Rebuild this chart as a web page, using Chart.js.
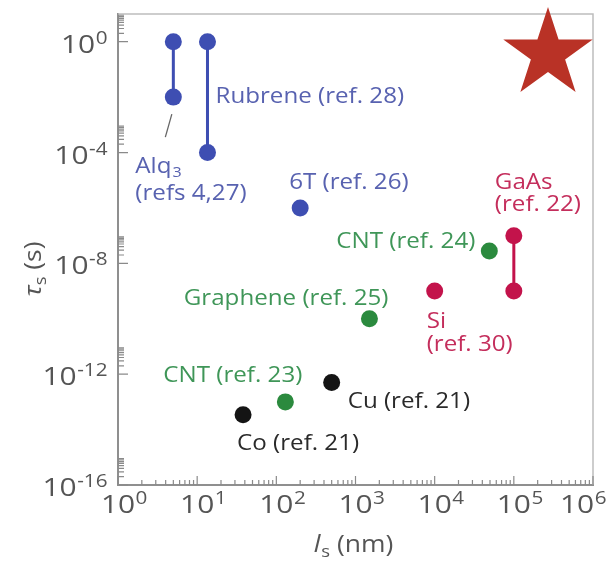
<!DOCTYPE html>
<html>
<head>
<meta charset="utf-8">
<script src="https://cdn.jsdelivr.net/npm/chart.js@4.4.1/dist/chart.umd.min.js"></script>
<style>
  body { margin: 0; background: #fff; }
  #wrap { width: 613px; height: 561px; }
</style>
</head>
<body>
<div id="wrap"><canvas id="c" width="613" height="561"></canvas></div>
<script>
// datos (l_s en nm, tau_s en s)
const materiales = ['Alq3', 'Rubrene', '6T', 'CNT (ref. 24)', 'Graphene', 'CNT (ref. 23)', 'GaAs', 'Si', 'Co', 'Cu'];
const grupos = ['org', 'org', 'org', 'carbon', 'carbon', 'carbon', 'semi', 'semi', 'metal', 'metal'];
const longitudSpin = [5, 13.5, 200, 49000, 1500, 130, 1e5, 1e4, 38, 500];
const tiempoAlto = [1, 1, 1e-6, 2.8e-8, 1e-10, 1e-13, 1e-7, 1e-9, 3.4e-14, 5e-13];
const tiempoBajo = [1e-2, 1e-4, null, null, null, null, 1e-9, null, null, null];

const xExponentes = [0, 1, 2, 3, 4, 5, 6];
const yExponentes = [0, -4, -8, -12, -16];

const colores = { org: '#3e4eb2', carbon: '#2b8a3e', semi: '#c3134b', metal: '#141414' };
const coloresTexto = { org: '#5862b0', carbon: '#3f9658', semi: '#c42e5c', metal: '#2a2a2a' };

// etiquetas: ancladas a un punto (indice) con desplazamiento en px
const etiquetas = [
  { i: 1, p: 'alto', dx: 8, dy: [61], txt: ['Rubrene (ref. 28)'], align: 'left' },
  { i: 0, p: 'bajo', dx: -38, dy: [76, 103], txt: ['Alq', '(refs 4,27)'], sub: '3', align: 'left',
    guia: [-1.5, 17, -8, 40] },
  { i: 2, p: 'alto', dx: -11, dy: [-19], txt: ['6T (ref. 26)'], align: 'left' },
  { i: 3, p: 'alto', dx: -14, dy: [-3], txt: ['CNT (ref. 24)'], align: 'right' },
  { i: 6, p: 'alto', dx: -19, dy: [-47, -25], txt: ['GaAs', '(ref. 22)'], align: 'left' },
  { i: 4, p: 'alto', dx: 19, dy: [-14], txt: ['Graphene (ref. 25)'], align: 'right' },
  { i: 7, p: 'alto', dx: -8, dy: [37, 60], txt: ['Si', '(ref. 30)'], align: 'left' },
  { i: 5, p: 'alto', dx: 17, dy: [-20], txt: ['CNT (ref. 23)'], align: 'right' },
  { i: 8, p: 'alto', dx: -6, dy: [35], txt: ['Co (ref. 21)'], align: 'left' },
  { i: 9, p: 'alto', dx: 16, dy: [25], txt: ['Cu (ref. 21)'], align: 'left' }
];

const FUENTE = '"Open Sans", "Noto Sans", sans-serif';
const SX = 1.15; // el texto del original es algo mas ancho

const datasets = materiales.map((m, i) => {
  const puntos = [{ x: longitudSpin[i], y: tiempoAlto[i] }];
  if (tiempoBajo[i] !== null) puntos.push({ x: longitudSpin[i], y: tiempoBajo[i] });
  return {
    label: m,
    data: puntos,
    showLine: puntos.length > 1,
    borderColor: colores[grupos[i]],
    backgroundColor: colores[grupos[i]],
    borderWidth: 3,
    pointRadius: 8.5,
    pointBorderWidth: 0,
    clip: false
  };
});

function ancho(ctx, t, font) {
  ctx.font = font;
  return ctx.measureText(t).width * SX;
}

// escribe texto con alineacion a la izquierda y estirado en x
function texto(ctx, t, x, y, font) {
  ctx.save();
  ctx.font = font;
  ctx.textAlign = 'left';
  ctx.translate(x, y);
  ctx.scale(SX, 1);
  ctx.fillText(t, 0, 0);
  ctx.restore();
}

function potencia(ctx, exp, x, y, modo) {
  const fBase = '26px ' + FUENTE, fExp = '18px ' + FUENTE;
  const e = String(exp).replace('-', '\u2011');
  const w10 = ancho(ctx, '10', fBase);
  const we = ancho(ctx, e, fExp);
  let x0 = modo === 'derecha' ? x - w10 - we : x - w10 / 2;
  if (x0 + w10 + we > 606) x0 = 606 - w10 - we; // que el 10^6 quepa
  texto(ctx, '10', x0, y, fBase);
  texto(ctx, e, x0 + w10 + 0.5, y - 9, fExp);
}

const decoracion = {
  id: 'decoracion',
  afterDatasetsDraw(chart) {
    const ctx = chart.ctx;
    const xs = chart.scales.x, ys = chart.scales.y;
    const a = chart.chartArea;
    ctx.save();

    // marco superior y derecho
    ctx.strokeStyle = '#bdbdbd';
    ctx.lineWidth = 1.5;
    ctx.beginPath();
    ctx.moveTo(a.left, a.top); ctx.lineTo(a.right, a.top); ctx.lineTo(a.right, a.bottom);
    ctx.stroke();

    // marcas hacia adentro
    ctx.strokeStyle = '#8a8a8a';
    ctx.lineWidth = 1.2;
    ctx.beginPath();
    xExponentes.forEach(n => {
      const px = xs.getPixelForValue(Math.pow(10, n));
      ctx.moveTo(px, a.bottom); ctx.lineTo(px, a.bottom - 9);
      if (n < 6) {
        for (let k = 2; k <= 9; k++) {
          const q = xs.getPixelForValue(k * Math.pow(10, n));
          ctx.moveTo(q, a.bottom); ctx.lineTo(q, a.bottom - 5);
        }
      }
    });
    yExponentes.forEach(n => {
      const py = ys.getPixelForValue(Math.pow(10, n));
      ctx.moveTo(a.left, py); ctx.lineTo(a.left + 10, py);
      for (let k = 2; k <= 9; k++) {
        const q = ys.getPixelForValue(k * Math.pow(10, n));
        ctx.moveTo(a.left, q); ctx.lineTo(a.left + 6, q);
      }
    });
    ctx.stroke();

    // etiquetas de ejes
    ctx.fillStyle = '#555';
    ctx.textBaseline = 'alphabetic';
    xExponentes.forEach(n => {
      potencia(ctx, n, xs.getPixelForValue(Math.pow(10, n)), 513, 'centro');
    });
    yExponentes.forEach(n => {
      potencia(ctx, n, 107, ys.getPixelForValue(Math.pow(10, n)) + 11, 'derecha');
    });

    // titulos
    const fIt = 'italic 23px ' + FUENTE, fSub = '16px ' + FUENTE, fTit = '23px ' + FUENTE;
    let wl = ancho(ctx, 'l', fIt), ws = ancho(ctx, 's', fSub), wr = ancho(ctx, ' (nm)', fTit);
    let x0 = 353 - (wl + ws + wr) / 2;
    texto(ctx, 'l', x0, 552, fIt);
    texto(ctx, 's', x0 + wl + 1, 557, fSub);
    texto(ctx, ' (nm)', x0 + wl + ws + 1, 552, fTit);

    ctx.save();
    ctx.translate(41, 269);
    ctx.rotate(-Math.PI / 2);
    wl = ancho(ctx, '\u03c4', fIt); wr = ancho(ctx, ' (s)', fTit);
    x0 = -(wl + ws + wr) / 2;
    texto(ctx, '\u03c4', x0, 0, fIt);
    texto(ctx, 's', x0 + wl, 5, fSub);
    texto(ctx, ' (s)', x0 + wl + ws, 0, fTit);
    ctx.restore();

    // anotaciones
    const fEt = '21px ' + FUENTE, fEtSub = '14px ' + FUENTE;
    etiquetas.forEach(et => {
      const g = grupos[et.i];
      const valY = et.p === 'alto' ? tiempoAlto[et.i] : tiempoBajo[et.i];
      const px = xs.getPixelForValue(longitudSpin[et.i]);
      const py = ys.getPixelForValue(valY);
      ctx.fillStyle = coloresTexto[g];
      et.txt.forEach((t, k) => {
        const w = ancho(ctx, t, fEt);
        const xi = et.align === 'right' ? px + et.dx - w : px + et.dx;
        texto(ctx, t, xi, py + et.dy[k], fEt);
        if (k === 0 && et.sub) {
          texto(ctx, et.sub, xi + w + 1, py + et.dy[k] + 4, fEtSub);
        }
      });
      if (et.guia) {
        ctx.strokeStyle = '#666';
        ctx.lineWidth = 1.3;
        ctx.beginPath();
        ctx.moveTo(px + et.guia[0], py + et.guia[1]);
        ctx.lineTo(px + et.guia[2], py + et.guia[3]);
        ctx.stroke();
      }
    });

    // estrella
    const cx = 548, cy = 54, R = 47, r = 18;
    ctx.fillStyle = '#b93226';
    ctx.beginPath();
    for (let k = 0; k < 10; k++) {
      const ang = -Math.PI / 2 + k * Math.PI / 5;
      const rad = k % 2 === 0 ? R : r;
      const sx = cx + rad * Math.cos(ang), sy = cy + rad * Math.sin(ang);
      if (k === 0) ctx.moveTo(sx, sy); else ctx.lineTo(sx, sy);
    }
    ctx.closePath();
    ctx.fill();

    ctx.restore();
  }
};

new Chart(document.getElementById('c'), {
  type: 'scatter',
  data: { datasets: datasets },
  options: {
    responsive: false,
    animation: false,
    layout: { padding: { top: 14, right: 20, left: 0, bottom: 0 } },
    plugins: { legend: { display: false }, tooltip: { enabled: false } },
    scales: {
      x: {
        type: 'logarithmic',
        min: 1,
        max: 1e6,
        ticks: { display: false },
        grid: { display: false, drawTicks: false },
        border: { display: true, color: '#8f8f8f', width: 2 },
        afterFit: s => { s.height = 76; }
      },
      y: {
        type: 'logarithmic',
        min: 1e-16,
        max: 10,
        ticks: { display: false },
        grid: { display: false, drawTicks: false },
        border: { display: true, color: '#8f8f8f', width: 2 },
        afterFit: s => { s.width = 118; }
      }
    }
  },
  plugins: [decoracion]
});
</script>
</body>
</html>
